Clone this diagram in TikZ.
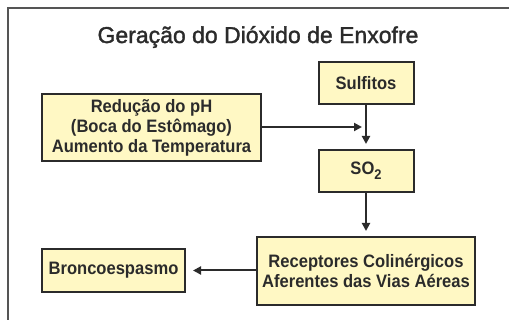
\documentclass[tikz,border=0pt]{standalone}
\usepackage{fontspec}
\setmainfont{Liberation Sans}
\newfontfamily\titlefont[FakeBold=1.5]{Liberation Sans}
\newfontfamily\boxfont[FakeStretch=0.92]{Liberation Sans Bold}
\usetikzlibrary{arrows.meta}
\definecolor{boxfill}{HTML}{FFF8C4}
\definecolor{ink}{HTML}{2B2B2B}
\definecolor{framec}{HTML}{555555}
\tikzset{
  box/.style={draw=ink, line width=2pt, fill=boxfill, text=ink, align=center,
    font=\boxfont\fontsize{18}{20}\selectfont, inner sep=0pt},
  conn/.style={draw=ink, line width=2pt, -{Triangle[length=8pt,width=8pt]}}
}
\begin{document}
\begin{tikzpicture}[x=1pt,y=-1pt]
\useasboundingbox (0,0) rectangle (509,320);
\fill[white] (0,0) rectangle (509,320);
\draw[framec, line width=2pt] (8,320) -- (8,8) -- (509,8);
\node[text=ink, font=\titlefont\fontsize{23}{26}\selectfont] (title) at (258,37) {Geração do Dióxido de Enxofre};
\node[box, minimum width=95pt, minimum height=42pt] (sulf) at (366,83) {Sulfitos};
\node[box, minimum width=219pt, minimum height=67pt] (red) at (151.5,128) {Redução do pH\\(Boca do Estômago)\\Aumento da Temperatura};
\node[box, minimum width=95pt, minimum height=42pt] (so2) at (366,171) {SO\raisebox{-0.55ex}{\fontsize{14}{14}\selectfont 2}};
\node[box, minimum width=218pt, minimum height=68pt] (rec) at (366,271) {Receptores Colinérgicos\\Aferentes das Vias Aéreas};
\node[box, minimum width=143pt, minimum height=43pt] (bron) at (113.5,270.5) {Broncoespasmo};
\coordinate (join) at (362,127);
\draw[conn] (red.east |- join) -- (join);
\draw[conn] (sulf.south) -- ([yshift=5pt]so2.north);
\draw[conn] (so2.south) -- ([yshift=5pt]rec.north);
\draw[conn] (rec.west |- bron.east) -- ([xshift=7pt]bron.east);
\end{tikzpicture}
\end{document}
